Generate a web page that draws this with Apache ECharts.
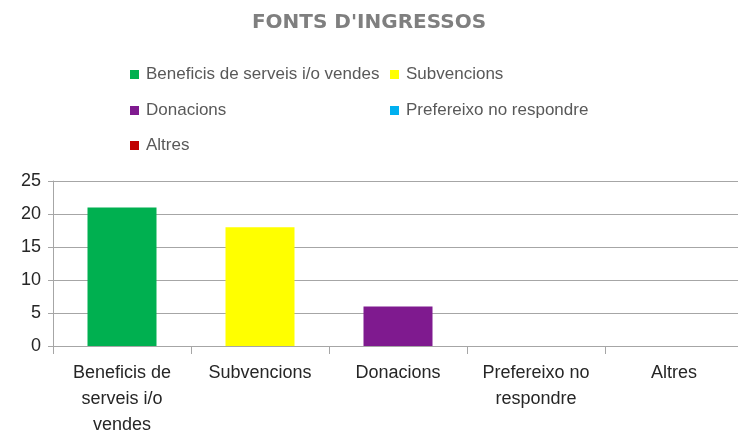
<!DOCTYPE html>
<html>
<head>
<meta charset="utf-8">
<script src="https://cdn.jsdelivr.net/npm/echarts@6/dist/echarts.min.js"></script>
<style>
html, body { margin: 0; padding: 0; background: #fff; }
#chart { width: 738px; height: 435px; }
</style>
</head>
<body>
<div id="chart"></div>
<script>
var categories = ['Beneficis de serveis i/o vendes', 'Subvencions', 'Donacions', 'Prefereixo no respondre', 'Altres'];
var axisLabels = ['Beneficis de\nserveis i/o\nvendes', 'Subvencions', 'Donacions', 'Prefereixo no\nrespondre', 'Altres'];
var values = [21, 18, 6, 0, 0];
var colors = ['#00b050', '#ffff00', '#7f1a8f', '#00b0f0', '#c00000'];
var yTicks = [0, 5, 10, 15, 20, 25];

// legend spots, two columns like the original
var legendPos = [[125, 61], [385, 61], [125, 97], [385, 97], [125, 132]];

var legends = categories.map(function(name, i) {
    return {
        data: [name],
        left: legendPos[i][0],
        top: legendPos[i][1],
        icon: 'rect',
        itemWidth: 9,
        itemHeight: 9,
        itemGap: 0,
        selectedMode: false,
        textStyle: {color: '#595959', fontSize: 17, fontFamily: 'Liberation Sans', padding: [0, 0, 0, 2]}
    };
});

var series = categories.map(function(name, i) {
    return {
        name: name,
        type: 'bar',
        stack: 'all',
        barWidth: '50%',
        itemStyle: {color: colors[i]},
        data: values.map(function(v, j) { return j === i ? v : '-'; })
    };
});

var option = {
    animation: false,
    title: {
        text: "FONTS D'INGRESSOS",
        left: 'center',
        top: 8,
        textStyle: {color: '#7f7f7f', fontSize: 20, fontWeight: 'bold', fontFamily: 'DejaVu Sans'}
    },
    legend: legends,
    grid: {left: 53, right: -5, top: 181, bottom: 89, containLabel: false, outerBoundsMode: 'none'},
    xAxis: {
        type: 'category',
        data: axisLabels,
        axisLine: {lineStyle: {color: '#a6a6a6'}},
        axisTick: {show: true, interval: 0, length: 8, lineStyle: {color: '#a6a6a6'}},
        axisLabel: {interval: 0, hideOverlap: false, color: '#262626', fontSize: 18, fontFamily: 'Liberation Sans', lineHeight: 26, margin: 14}
    },
    yAxis: {
        type: 'value',
        min: yTicks[0],
        max: yTicks[yTicks.length - 1],
        interval: 5,
        axisLine: {show: true, lineStyle: {color: '#a6a6a6'}},
        axisTick: {show: true, length: 5, lineStyle: {color: '#a6a6a6'}},
        splitLine: {lineStyle: {color: '#a6a6a6'}},
        axisLabel: {color: '#262626', fontSize: 18, fontFamily: 'Liberation Sans', margin: 12}
    },
    series: series
};

var chart = echarts.init(document.getElementById('chart'));
chart.setOption(option);
</script>
</body>
</html>
